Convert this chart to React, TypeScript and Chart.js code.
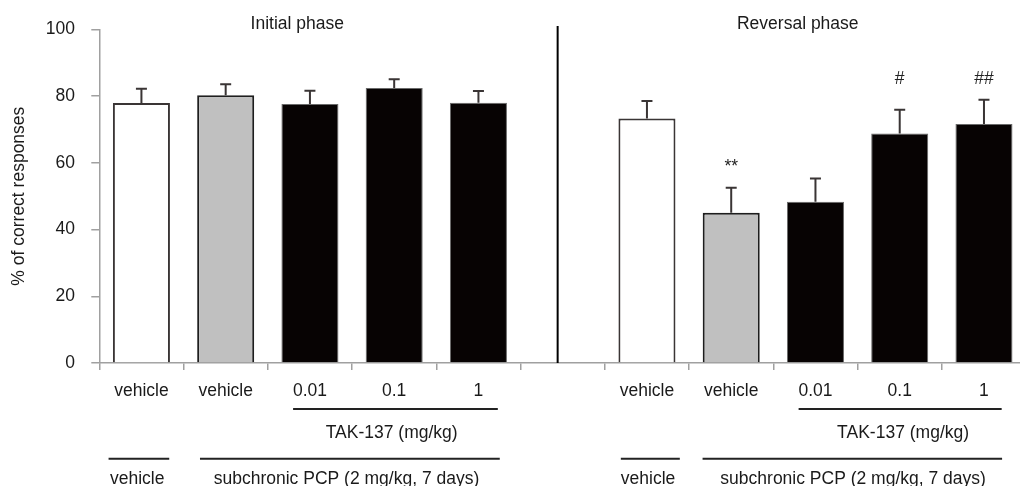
import React, { useEffect, useRef } from 'react';
import { Chart, registerables } from 'chart.js';

Chart.register(...registerables);

// ---------------- data ----------------
const categories = ['vehicle', 'vehicle', '0.01', '0.1', '1', '', 'vehicle', 'vehicle', '0.01', '0.1', '1'];
const meanValues: (number | null)[] = [77.9, 80.2, 77.6, 82.4, 78.0, null, 73.3, 45.0, 48.3, 68.8, 71.6];
const semValues: (number | null)[] = [4.3, 3.3, 4.0, 2.6, 3.5, null, 5.2, 7.5, 7.0, 7.1, 7.3];
const groupKinds = ['veh', 'pcp', 'tak', 'tak', 'tak', '', 'veh', 'pcp', 'tak', 'tak', 'tak'];
const sigMarks = ['', '', '', '', '', '', '', '**', '', '#', '##'];
const sigMarkValues: (number | null)[] = [null, null, null, null, null, null, null, 57.3, null, 83.5, 83.5];
const phaseTitles = ['Initial phase', 'Reversal phase'];
const doseLabel = 'TAK-137 (mg/kg)';
const treatmentLabels = ['vehicle', 'subchronic PCP (2 mg/kg, 7 days)', 'vehicle', 'subchronic PCP (2 mg/kg, 7 days)'];
const yAxisTitle = '% of correct responses';

// ---------------- layout (category-index units / pixel offsets) ----------------
const LAYOUT = {
  titleAt: [1.85, 7.79],
  separatorAt: 4.94,
  separatorTopValue: 101,
  doseLines: [[1.8, 4.23], [7.8, 10.21]],
  doseLabelAt: [2.97, 9.04],
  treatLines: [[-0.39, 0.33], [0.695, 4.253], [5.69, 6.39], [6.66, 10.215]],
  treatLabelAt: [-0.05, 2.434, 6.013, 8.447],
  doseLineDy: 46,
  doseLabelDy: 75,
  treatLineDy: 95.7,
  treatLabelDy: 120.5,
};

const FONT_FAMILY = '"Liberation Sans", Arial, sans-serif';
const FONT_SIZE = 17.5;
const TEXT = '#1a1a1a';
const AXIS = '#a0a0a0';

const fills: Record<string, string> = { veh: '#ffffff', pcp: '#c0c0c0', tak: '#070303', '': '#ffffff' };
const borders: Record<string, string> = { veh: '#3a3535', pcp: '#1e1e1e', tak: '#6a6a6a', '': '#ffffff' };
const borderWidths: Record<string, number> = { veh: 2, pcp: 2, tak: 1, '': 0 };

const decorPlugin = {
  id: 'decor',
  afterDatasetsDraw(chart: any) {
    const { ctx, chartArea } = chart;
    const x = chart.scales.x;
    const y = chart.scales.y;
    const meta = chart.getDatasetMeta(0);
    ctx.save();

    // error bars
    ctx.strokeStyle = '#3a3535';
    ctx.lineWidth = 2;
    meanValues.forEach((m, i) => {
      const s = semValues[i];
      if (m == null || s == null) return;
      const bx = meta.data[i].x;
      const y0 = y.getPixelForValue(m);
      const y1 = y.getPixelForValue(m + s);
      ctx.beginPath();
      ctx.moveTo(bx, y0);
      ctx.lineTo(bx, y1);
      ctx.moveTo(bx - 5.5, y1);
      ctx.lineTo(bx + 5.5, y1);
      ctx.stroke();
    });

    // significance marks
    ctx.fillStyle = '#222';
    ctx.font = `${FONT_SIZE}px ${FONT_FAMILY}`;
    ctx.textAlign = 'center';
    ctx.textBaseline = 'alphabetic';
    sigMarks.forEach((t, i) => {
      const v = sigMarkValues[i];
      if (!t || v == null) return;
      ctx.fillText(t, meta.data[i].x, y.getPixelForValue(v));
    });

    // phase separator
    ctx.strokeStyle = '#000';
    ctx.lineWidth = 2;
    const sx = x.getPixelForValue(LAYOUT.separatorAt);
    ctx.beginPath();
    ctx.moveTo(sx, y.getPixelForValue(LAYOUT.separatorTopValue));
    ctx.lineTo(sx, y.getPixelForValue(0));
    ctx.stroke();

    // phase titles
    ctx.fillStyle = TEXT;
    phaseTitles.forEach((t, i) => {
      ctx.fillText(t, x.getPixelForValue(LAYOUT.titleAt[i]), y.getPixelForValue(100));
    });

    // dose bracket lines + labels
    const base = chartArea.bottom;
    ctx.strokeStyle = '#222';
    ctx.lineWidth = 2;
    LAYOUT.doseLines.forEach(([a, b]) => {
      ctx.beginPath();
      ctx.moveTo(x.getPixelForValue(a), base + LAYOUT.doseLineDy);
      ctx.lineTo(x.getPixelForValue(b), base + LAYOUT.doseLineDy);
      ctx.stroke();
    });
    LAYOUT.doseLabelAt.forEach((p) => {
      ctx.fillText(doseLabel, x.getPixelForValue(p), base + LAYOUT.doseLabelDy);
    });

    // treatment lines + labels
    LAYOUT.treatLines.forEach(([a, b]) => {
      ctx.beginPath();
      ctx.moveTo(x.getPixelForValue(a), base + LAYOUT.treatLineDy);
      ctx.lineTo(x.getPixelForValue(b), base + LAYOUT.treatLineDy);
      ctx.stroke();
    });
    treatmentLabels.forEach((t, i) => {
      ctx.fillText(t, x.getPixelForValue(LAYOUT.treatLabelAt[i]), base + LAYOUT.treatLabelDy);
    });

    ctx.restore();
  },
};

export default function App() {
  const ref = useRef<HTMLCanvasElement | null>(null);

  useEffect(() => {
    if (!ref.current) return;
    const chart = new Chart(ref.current, {
      type: 'bar',
      data: {
        labels: categories,
        datasets: [
          {
            data: meanValues as any,
            backgroundColor: groupKinds.map((k) => fills[k]),
            borderColor: groupKinds.map((k) => borders[k]),
            borderWidth: groupKinds.map((k) => borderWidths[k]) as any,
            barPercentage: 0.677,
            categoryPercentage: 1,
          },
        ],
      },
      options: {
        responsive: false,
        animation: false,
        devicePixelRatio: 1,
        layout: { padding: { left: 0, right: 13.9, top: 29.3, bottom: 0 } },
        plugins: { legend: { display: false }, title: { display: false }, tooltip: { enabled: false } },
        font: { family: FONT_FAMILY, size: FONT_SIZE } as any,
        scales: {
          x: {
            offset: true,
            grid: { display: true, drawOnChartArea: false, drawTicks: true, tickLength: 7, color: AXIS, lineWidth: 1.5, offset: true },
            border: { display: true, color: AXIS, width: 1.5 },
            ticks: {
              color: TEXT,
              font: { family: FONT_FAMILY, size: FONT_SIZE },
              padding: 10.5,
              autoSkip: false,
              maxRotation: 0,
              minRotation: 0,
            },
            afterFit: (s: any) => {
              s.height = 123;
            },
          },
          y: {
            min: 0,
            max: 100,
            ticks: { stepSize: 20, color: TEXT, font: { family: FONT_FAMILY, size: FONT_SIZE }, padding: 16.3 },
            grid: { display: true, drawOnChartArea: false, drawTicks: true, tickLength: 8, color: AXIS, lineWidth: 1.5 },
            border: { display: true, color: AXIS, width: 1.5 },
            title: {
              display: true,
              text: yAxisTitle,
              color: TEXT,
              font: { family: FONT_FAMILY, size: FONT_SIZE },
              padding: { top: 9.1, bottom: 0 },
            },
            afterFit: (s: any) => {
              s.width = 99.3;
            },
          },
        },
      },
      plugins: [decorPlugin],
    });
    return () => chart.destroy();
  }, []);

  return (
    <div style={{ position: 'fixed', left: 0, top: 0, width: 1020, height: 486, overflow: 'hidden', background: '#fff' }}>
      <canvas ref={ref} width={1040} height={486} style={{ display: 'block', width: 1040, height: 486 }} />
    </div>
  );
}
